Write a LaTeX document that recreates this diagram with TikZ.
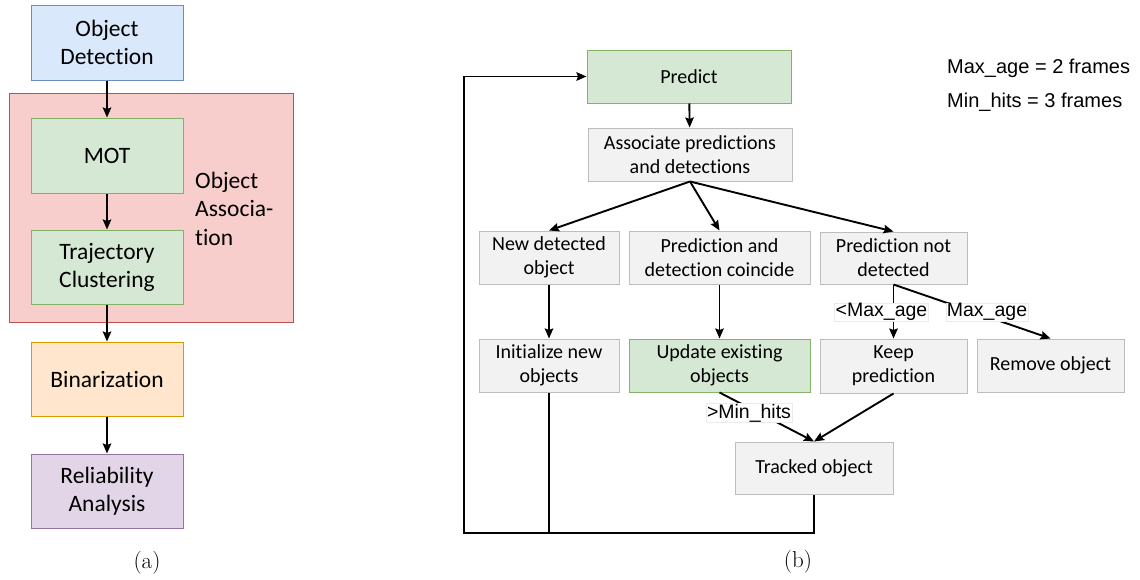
\documentclass[tikz,border=0pt]{standalone}
\usepackage{fontspec}
\newfontfamily\boxfont[Ligatures=NoCommon]{Carlito}
\newfontfamily\arialfont{Liberation Sans}
\usetikzlibrary{arrows.meta}
\definecolor{bluef}{HTML}{DAE8FC}\definecolor{blued}{HTML}{6C8EBF}
\definecolor{redf}{HTML}{F8CECC}\definecolor{redd}{HTML}{B85450}
\definecolor{greenf}{HTML}{D5E8D4}\definecolor{greend}{HTML}{82B366}
\definecolor{orangef}{HTML}{FFE6CC}\definecolor{oranged}{HTML}{D79B00}
\definecolor{purplef}{HTML}{E1D5E7}\definecolor{purpled}{HTML}{9673A6}
\definecolor{grayf}{HTML}{F2F2F2}\definecolor{grayd}{HTML}{BDBDBD}
\tikzset{
  lbox/.style={draw, line width=1pt, inner sep=0pt, align=center, minimum width=152pt, minimum height=74pt,
    font=\boxfont\fontsize{23.5}{28}\selectfont},
  rbox/.style={draw=grayd, fill=grayf, line width=1pt, inner sep=0pt, align=center, minimum height=53pt,
    font=\boxfont\fontsize{20}{24}\selectfont},
  gbox/.style={rbox, draw=greend, fill=greenf},
  arr/.style={line width=1.9pt, -{Stealth[length=10pt,width=8.5pt,inset=1.5pt]}},
  ln/.style={line width=1.9pt},
  elab/.style={fill=white, draw=black!8, line width=0.5pt, inner xsep=1pt, inner ysep=0.5pt,
    font=\arialfont\fontsize{19.5}{22}\selectfont},
  note/.style={anchor=west, inner sep=0pt, font=\arialfont\fontsize{20}{24}\selectfont},
  captext/.style={inner sep=0pt, font=\fontsize{23}{27}\selectfont}
}
\begin{document}
\begin{tikzpicture}[x=1pt,y=-1pt]
\useasboundingbox (0,0) rectangle (1140,579);
% ---------- (a) ----------
\node[lbox, draw=redd, fill=redf, minimum width=284pt, minimum height=229pt] (assocbg) at (151,207.5) {};
\node[lbox, draw=blued, fill=bluef, minimum height=75pt] (od) at (107,42.5) {Object\\Detection};
\node[lbox, draw=greend, fill=greenf, minimum height=75pt] (mot) at (107,155.5) {MOT};
\node[lbox, draw=greend, fill=greenf] (traj) at (107,267) {Trajectory\\Clustering};
\node[lbox, draw=oranged, fill=orangef] (bin) at (107,379) {Binarization};
\node[lbox, draw=purpled, fill=purplef] (rel) at (107,491) {Reliability\\Analysis};
\node[anchor=west, inner sep=0pt, align=left, font=\boxfont\fontsize{23.5}{28.5}\selectfont] (assoctext) at (195,208.5) {Object\\Associa-\\tion};
\draw[arr] (od) -- (mot);
\draw[arr] (mot) -- (traj);
\draw[arr] (traj) -- (bin);
\draw[arr] (bin) -- (rel);
\node[captext] (capa) at (147,563) {(a)};
% ---------- (b) ----------
\node[gbox, minimum width=204pt] (pred) at (689,76.5) {Predict};
\node[rbox, minimum width=204pt] (assoc) at (690,154.5) {Associate predictions\\and detections};
\node[rbox, minimum width=140pt] (newd) at (549,257.5) {New detected\\object};
\node[rbox, minimum width=181pt] (coin) at (719.5,257.5) {Prediction and\\detection coincide};
\node[rbox, minimum width=147pt, minimum height=52pt] (notd) at (893.5,258) {Prediction not\\detected};
\node[rbox, minimum width=140pt] (init) at (549,365.5) {Initialize new\\objects};
\node[gbox, minimum width=181pt] (upd) at (719.5,365.5) {Update existing\\objects};
\node[rbox, minimum width=147pt, minimum height=54pt] (keep) at (893.5,366) {Keep\\prediction};
\node[rbox, minimum width=147pt] (remove) at (1050.5,365.5) {Remove object};
\node[rbox, minimum width=158pt, minimum height=52pt] (tracked) at (814,468) {Tracked object};
\coordinate (c1) at (464,533);
\draw[arr] (pred) -- (assoc);
\draw[arr] (assoc.south) -- (newd.north);
\draw[arr] (assoc.south) -- (coin.north);
\draw[arr] (assoc.south) -- (notd.north);
\draw[arr] (newd) -- (init);
\draw[arr] (coin) -- (upd);
\draw[arr] (notd.south) -- (keep.north);
\draw[arr] (notd.south) -- (remove.north);
\draw[arr] (upd.south) -- (tracked.north);
\draw[arr] (keep.south) -- (tracked.north);
\draw[arr] (tracked.south) |- (c1) |- (pred.west);
\draw[ln] (init.south) -- (init.south |- c1);
\node[elab] (l1) at (881.5,312) {<Max\_age};
\node[elab] (l2) at (987,312) {Max\_age};
\node[elab] (l3) at (749,413) {>Min\_hits};
\node[note] (n1) at (947,68) {Max\_age = 2 frames};
\node[note] (n2) at (947,102) {Min\_hits = 3 frames};
\node[captext] (capb) at (798,562) {(b)};
\end{tikzpicture}
\end{document}
